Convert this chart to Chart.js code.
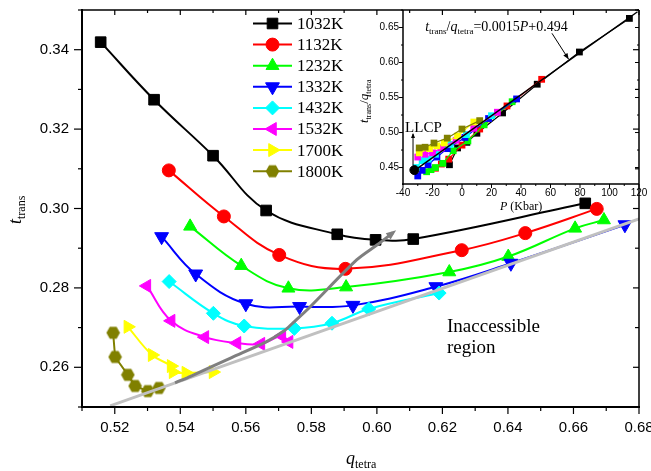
<!DOCTYPE html>
<html>
<head>
<meta charset="utf-8">
<script src="https://cdn.jsdelivr.net/npm/chart.js@4.4.0/dist/chart.umd.min.js"></script>
<style>
  html, body { margin: 0; padding: 0; background: #fff; }
  #wrap { position: relative; width: 651px; height: 471px; }
  #wrap canvas { position: absolute; left: 0; top: 0; }
</style>
</head>
<body>
<div id="wrap">
  <canvas id="main" width="651" height="471"></canvas>
  <canvas id="inset" width="651" height="471"></canvas>
</div>
<script>
// ---- main plot data: t_trans vs q_tetra ----
const temps = ['1032K', '1132K', '1232K', '1332K', '1432K', '1532K', '1700K', '1800K'];

const q1032 = [0.5157, 0.5320, 0.5500, 0.5662, 0.5879, 0.5996, 0.6111, 0.6636];
const t1032 = [0.3419, 0.3274, 0.3133, 0.2995, 0.2935, 0.2921, 0.2923, 0.3013];
const q1132 = [0.5365, 0.5533, 0.5702, 0.5904, 0.6259, 0.6453, 0.6671];
const t1132 = [0.3096, 0.2980, 0.2883, 0.2848, 0.2895, 0.2938, 0.2999];
const q1232 = [0.5430, 0.5586, 0.5730, 0.5906, 0.6221, 0.6401, 0.6605, 0.6693];
const t1232 = [0.2955, 0.2856, 0.2799, 0.2802, 0.2840, 0.2879, 0.2950, 0.2971];
const q1332 = [0.5343, 0.5447, 0.5600, 0.5764, 0.5927, 0.6180, 0.6409, 0.6757];
const t1332 = [0.2929, 0.2835, 0.2760, 0.2753, 0.2756, 0.2803, 0.2862, 0.2959];
const q1432 = [0.5366, 0.5501, 0.5595, 0.5748, 0.5863, 0.5975, 0.6190];
const t1432 = [0.2816, 0.2736, 0.2704, 0.2698, 0.2711, 0.2747, 0.2787];
const q1532 = [0.5298, 0.5372, 0.5475, 0.5573, 0.5646, 0.5710, 0.5732];
const t1532 = [0.2805, 0.2717, 0.2676, 0.2661, 0.2659, 0.2679, 0.2664];
const q1700 = [0.5240, 0.5314, 0.5372, 0.5378, 0.5417, 0.5500];
const t1700 = [0.2702, 0.2631, 0.2603, 0.2588, 0.2586, 0.2588];
const q1800 = [0.5195, 0.5201, 0.5240, 0.5262, 0.5301, 0.5335];
const t1800 = [0.2687, 0.2626, 0.2581, 0.2553, 0.2540, 0.2548];

// grey guide curve (with arrow) and the accessibility limit line
const qGuide = [0.5384, 0.5433, 0.5555, 0.5662, 0.5717, 0.5744, 0.5796, 0.5939, 0.6000, 0.6049];
const tGuide = [0.2561, 0.2578, 0.2624, 0.2664, 0.2692, 0.2712, 0.2752, 0.2871, 0.2908, 0.2939];
const qLimit = [0.5186, 0.68];
const tLimit = [0.2503, 0.2974];

// ---- inset data: t_trans/q_tetra vs P (Kbar) ----
const p1032 = [113.5, 79.6, 51.0, 27.5, 10.1, 3.3, -3, -8.5];
const r1032 = [0.663, 0.615, 0.569, 0.528, 0.499, 0.486, 0.478, 0.454];
const p1132 = [54, 30.5, 12, 0, -9, -14, -18];
const r1132 = [0.576, 0.538, 0.505, 0.482, 0.462, 0.455, 0.449];
const p1232 = [34, 15, 4, -6, -13, -18, -21, -24];
const r1232 = [0.544, 0.511, 0.488, 0.474, 0.456, 0.450, 0.447, 0.444];
const p1332 = [37, 18, 2, -10, -17, -23, -27, -30];
const r1332 = [0.548, 0.520, 0.493, 0.477, 0.465, 0.454, 0.446, 0.438];
const p1432 = [20, 3, -8, -18, -23, -27, -31];
const r1432 = [0.524, 0.497, 0.483, 0.469, 0.462, 0.460, 0.450];
const p1532 = [24, 8, -4, -14, -20, -25, -30];
const r1532 = [0.529, 0.506, 0.489, 0.478, 0.471, 0.469, 0.465];
const p1700 = [8, -3, -12, -17, -22, -29];
const r1700 = [0.515, 0.495, 0.485, 0.481, 0.477, 0.471];
const p1800 = [12, 0, -10, -19, -25, -29];
const r1800 = [0.517, 0.505, 0.492, 0.485, 0.479, 0.478];
const pFit = [-32.3, 119];
const rFit = [0.4456, 0.6725];
const pLLCP = [-32.3];
const rLLCP = [0.4464];

const xTicksMain = [0.52, 0.54, 0.56, 0.58, 0.60, 0.62, 0.64, 0.66, 0.68];
const yTicksMain = [0.26, 0.28, 0.30, 0.32, 0.34];
const xTicksInset = [-40, -20, 0, 20, 40, 60, 80, 100, 120];
const yTicksInset = [0.45, 0.50, 0.55, 0.60, 0.65];

// ---- styles ----
const colors = ['#000000', '#ff0000', '#00ff00', '#0000ff', '#00ffff', '#ff00ff', '#ffff00', '#808000'];

const hexMarker = document.createElement('canvas');
hexMarker.width = 15; hexMarker.height = 15;
(function () {
  const c = hexMarker.getContext('2d');
  c.fillStyle = '#808000';
  c.beginPath();
  for (let k = 0; k < 6; k++) {
    const a = k * Math.PI / 3;
    const px = 7.5 + 6.8 * Math.cos(a), py = 7.5 + 6.8 * Math.sin(a);
    if (k) c.lineTo(px, py); else c.moveTo(px, py);
  }
  c.closePath();
  c.fill();
})();

const markerStyles = ['rect', 'circle', 'triangle', 'triangle', 'rectRot', 'triangle', 'triangle', hexMarker];
const markerRotation = [0, 0, 0, 180, 0, -90, 90, 0];
const markerRadius = [7.5, 6.5, 7.5, 8, 7, 7.5, 7.5, 7];
const curveTension = [0.4, 0.4, 0.4, 0.4, 0.4, 0.4, 0.4, 0];

const SERIF = '"Liberation Serif", "Times New Roman", serif';
const SANS = '"Liberation Sans", Arial, sans-serif';

function pairs(xs, ys) {
  return xs.map((x, i) => ({ x: x, y: ys[i] }));
}

function line(ctx, x0, y0, x1, y1) {
  ctx.beginPath();
  ctx.moveTo(x0, y0);
  ctx.lineTo(x1, y1);
  ctx.stroke();
}

function arrowHead(ctx, x0, y0, x1, y1, len, w, color) {
  const a = Math.atan2(y1 - y0, x1 - x0);
  ctx.save();
  ctx.fillStyle = color;
  ctx.beginPath();
  ctx.moveTo(x1, y1);
  ctx.lineTo(x1 - len * Math.cos(a) + w * Math.sin(a), y1 - len * Math.sin(a) - w * Math.cos(a));
  ctx.lineTo(x1 - len * Math.cos(a) - w * Math.sin(a), y1 - len * Math.sin(a) + w * Math.cos(a));
  ctx.closePath();
  ctx.fill();
  ctx.restore();
}

// text with subscripts; parts = [{text, font, dy}]
function richText(ctx, parts, x, y, angle) {
  ctx.save();
  ctx.translate(x, y);
  if (angle) ctx.rotate(angle);
  ctx.textAlign = 'left';
  ctx.textBaseline = 'alphabetic';
  ctx.fillStyle = '#000';
  let cx = 0;
  parts.forEach(p => {
    ctx.font = p.font;
    ctx.fillText(p.text, cx, p.dy || 0);
    cx += ctx.measureText(p.text).width;
  });
  ctx.restore();
}

// ---- main chart ----
const mainQ = [q1032, q1132, q1232, q1332, q1432, q1532, q1700, q1800];
const mainT = [t1032, t1132, t1232, t1332, t1432, t1532, t1700, t1800];

const mainSets = [
  {
    label: 'guide', data: pairs(qGuide, tGuide), showLine: true,
    borderColor: '#7f7f7f', borderWidth: 3, pointRadius: 0, tension: 0.3, order: 0
  },
  {
    label: 'limit', data: pairs(qLimit, tLimit), showLine: true,
    borderColor: '#c0c0c0', borderWidth: 3, pointRadius: 0, order: 0
  }
];
temps.forEach((name, i) => {
  mainSets.push({
    label: name,
    data: pairs(mainQ[i], mainT[i]),
    showLine: true,
    borderColor: colors[i],
    backgroundColor: colors[i],
    borderWidth: 2,
    pointStyle: markerStyles[i],
    pointRotation: markerRotation[i],
    pointRadius: markerRadius[i],
    pointBorderWidth: 1,
    tension: curveTension[i],
    order: 8 - i
  });
});

const mainDecor = {
  id: 'mainDecor',
  afterDraw(chart) {
    const ctx = chart.ctx, a = chart.chartArea;
    const xs = chart.scales.x, ys = chart.scales.y;
    ctx.save();

    // arrow head at the end of the grey guide curve
    const gm = chart.getDatasetMeta(0).data;
    const g1 = gm[gm.length - 1], g0 = gm[gm.length - 2];
    arrowHead(ctx, g0.x, g0.y, g1.x + 4 * (g1.x - g0.x) / Math.hypot(g1.x - g0.x, g1.y - g0.y),
      g1.y + 4 * (g1.y - g0.y) / Math.hypot(g1.x - g0.x, g1.y - g0.y), 10, 4, '#7f7f7f');

    // frame
    ctx.strokeStyle = '#000';
    ctx.lineWidth = 1.5;
    line(ctx, a.left, a.top, a.right, a.top);
    line(ctx, a.right, a.top, a.right, a.bottom);
    ctx.lineWidth = 2;
    line(ctx, a.left, a.top - 1, a.left, a.bottom + 1);
    line(ctx, a.left - 1, a.bottom, a.right + 1, a.bottom);

    // ticks
    ctx.lineWidth = 1.2;
    for (let i = 51; i <= 68; i++) {
      const x = xs.getPixelForValue(i / 100);
      const major = i % 2 === 0;
      line(ctx, x, a.bottom, x, a.bottom + (major ? 7 : 4));
      line(ctx, x, a.top, x, a.top + (major ? 5 : 3));
    }
    for (let i = 25; i <= 35; i++) {
      const y = ys.getPixelForValue(i / 100);
      const major = i % 2 === 0;
      line(ctx, a.left, y, a.left - (major ? 8 : 4), y);
      line(ctx, a.right, y, a.right - (major ? 6 : 4), y);
    }

    // tick labels
    ctx.fillStyle = '#000';
    ctx.font = '15px ' + SANS;
    ctx.textAlign = 'center';
    ctx.textBaseline = 'middle';
    xTicksMain.forEach(v => ctx.fillText(v.toFixed(2), xs.getPixelForValue(v), 428));
    ctx.textAlign = 'right';
    yTicksMain.forEach(v => ctx.fillText(v.toFixed(2), 69, ys.getPixelForValue(v)));

    // axis titles
    richText(ctx, [
      { text: 'q', font: 'italic 18px ' + SERIF },
      { text: 'tetra', font: '12px ' + SERIF, dy: 4 }
    ], 346, 464);
    richText(ctx, [
      { text: 't', font: 'italic 18px ' + SERIF },
      { text: 'trans', font: '12px ' + SERIF, dy: 4 }
    ], 21, 224, -Math.PI / 2);

    // region label
    ctx.font = '19px ' + SERIF;
    ctx.textAlign = 'left';
    ctx.textBaseline = 'alphabetic';
    const rx = xs.getPixelForValue(0.6214);
    ctx.fillText('Inaccessible', rx, ys.getPixelForValue(0.2689));
    ctx.fillText('region', rx, ys.getPixelForValue(0.2636));

    // legend
    temps.forEach((name, i) => {
      const y = 23.5 + i * 21.1;
      ctx.strokeStyle = colors[i];
      ctx.lineWidth = 2;
      line(ctx, 253, y, 292, y);
      ctx.fillStyle = colors[i];
      ctx.lineWidth = 1;
      Chart.helpers.drawPoint(ctx, {
        pointStyle: markerStyles[i], rotation: markerRotation[i],
        radius: markerRadius[i], borderWidth: 1
      }, 272.5, y);
      ctx.fillStyle = '#000';
      ctx.font = '17px ' + SERIF;
      ctx.textAlign = 'left';
      ctx.textBaseline = 'middle';
      ctx.fillText(name, 297, y + 1);
    });
    ctx.restore();
  }
};

new Chart(document.getElementById('main'), {
  type: 'scatter',
  data: { datasets: mainSets },
  options: {
    responsive: false,
    animation: false,
    events: [],
    layout: { padding: { left: 82, right: 12, top: 10, bottom: 64 } },
    scales: {
      x: { type: 'linear', min: 0.51, max: 0.68, display: false },
      y: { type: 'linear', min: 0.25, max: 0.35, display: false }
    },
    plugins: { legend: { display: false }, tooltip: { enabled: false } }
  },
  plugins: [mainDecor]
});

// ---- inset chart ----
const insetP = [p1032, p1132, p1232, p1332, p1432, p1532, p1700, p1800];
const insetR = [r1032, r1132, r1232, r1332, r1432, r1532, r1700, r1800];

const insetSets = [
  {
    label: 'fit', data: pairs(pFit, rFit), showLine: true,
    borderColor: '#000', borderWidth: 1.5, pointRadius: 0, order: 0
  },
  {
    label: 'LLCP', data: pairs(pLLCP, rLLCP), showLine: false,
    backgroundColor: '#000', borderColor: '#000', pointStyle: 'circle', pointRadius: 4.5, order: 0
  }
];
temps.forEach((name, i) => {
  insetSets.push({
    label: name,
    data: pairs(insetP[i], insetR[i]),
    showLine: true,
    borderColor: colors[i],
    backgroundColor: colors[i],
    borderWidth: 1.2,
    pointStyle: 'rect',
    pointRadius: 4.8,
    pointBorderWidth: 0,
    order: 8 - i
  });
});

const insetDecor = {
  id: 'insetDecor',
  afterDraw(chart) {
    const ctx = chart.ctx, a = chart.chartArea;
    const xs = chart.scales.x, ys = chart.scales.y;
    ctx.save();
    ctx.strokeStyle = '#000';
    ctx.lineWidth = 1.5;
    line(ctx, a.left, a.top, a.left, a.bottom + 1);
    line(ctx, a.left - 1, a.bottom, a.right, a.bottom);

    ctx.lineWidth = 1;
    for (let p = -40; p <= 120; p += 10) {
      const x = xs.getPixelForValue(p);
      const major = p % 20 === 0;
      line(ctx, x, a.bottom, x, a.bottom + (major ? 4 : 2));
    }
    for (let k = 0; k <= 9; k++) {
      const v = 0.45 + k * 0.025;
      const y = ys.getPixelForValue(v);
      const major = k % 2 === 0;
      line(ctx, a.left, y, a.left - (major ? 4 : 2), y);
      line(ctx, a.right, y, a.right - (major ? 4 : 2), y);
    }

    ctx.fillStyle = '#000';
    ctx.font = '10px ' + SANS;
    ctx.textAlign = 'center';
    ctx.textBaseline = 'middle';
    xTicksInset.forEach(v => ctx.fillText(String(v), xs.getPixelForValue(v), 193));
    ctx.textAlign = 'right';
    yTicksInset.forEach(v => ctx.fillText(v.toFixed(2), 399, ys.getPixelForValue(v)));

    // axis titles
    richText(ctx, [
      { text: 'P', font: 'italic 12px ' + SERIF },
      { text: ' (Kbar)', font: '12px ' + SERIF }
    ], 500, 210);
    richText(ctx, [
      { text: 't', font: 'italic 13px ' + SERIF },
      { text: 'trans', font: '8px ' + SERIF, dy: 3 },
      { text: '/', font: '13px ' + SERIF },
      { text: 'q', font: 'italic 13px ' + SERIF },
      { text: 'tetra', font: '8px ' + SERIF, dy: 3 }
    ], 368, 123, -Math.PI / 2);

    // fit equation with arrow
    richText(ctx, [
      { text: 't', font: 'italic 14px ' + SERIF },
      { text: 'trans', font: '9px ' + SERIF, dy: 3 },
      { text: '/', font: '14px ' + SERIF },
      { text: 'q', font: 'italic 14px ' + SERIF },
      { text: 'tetra', font: '9px ' + SERIF, dy: 3 },
      { text: '=0.0015', font: '14px ' + SERIF },
      { text: 'P', font: 'italic 14px ' + SERIF },
      { text: '+0.494', font: '14px ' + SERIF }
    ], xs.getPixelForValue(-25), ys.getPixelForValue(0.6457));
    const ex0 = xs.getPixelForValue(61.0), ey0 = ys.getPixelForValue(0.6417);
    const ex1 = xs.getPixelForValue(72.3), ey1 = ys.getPixelForValue(0.6046);
    ctx.lineWidth = 1;
    line(ctx, ex0, ey0, ex1, ey1);
    arrowHead(ctx, ex0, ey0, ex1, ey1, 6, 2.5, '#000');

    // LLCP label with arrow
    ctx.font = '15px ' + SERIF;
    ctx.textAlign = 'left';
    ctx.textBaseline = 'alphabetic';
    ctx.fillText('LLCP', xs.getPixelForValue(-38.6), ys.getPixelForValue(0.5008));
    const lx = xs.getPixelForValue(-33.2);
    const ly0 = ys.getPixelForValue(0.4536), ly1 = ys.getPixelForValue(0.4979);
    line(ctx, lx, ly0, lx, ly1);
    arrowHead(ctx, lx, ly0, lx, ly1 - 1, 5, 2, '#000');
    ctx.restore();
  }
};

new Chart(document.getElementById('inset'), {
  type: 'scatter',
  data: { datasets: insetSets },
  options: {
    responsive: false,
    animation: false,
    events: [],
    layout: { padding: { left: 403, right: 12, top: 10, bottom: 287 } },
    scales: {
      x: { type: 'linear', min: -40, max: 120, display: false },
      y: { type: 'linear', min: 0.4265, max: 0.675, display: false }
    },
    plugins: { legend: { display: false }, tooltip: { enabled: false } }
  },
  plugins: [insetDecor]
});
</script>
</body>
</html>
